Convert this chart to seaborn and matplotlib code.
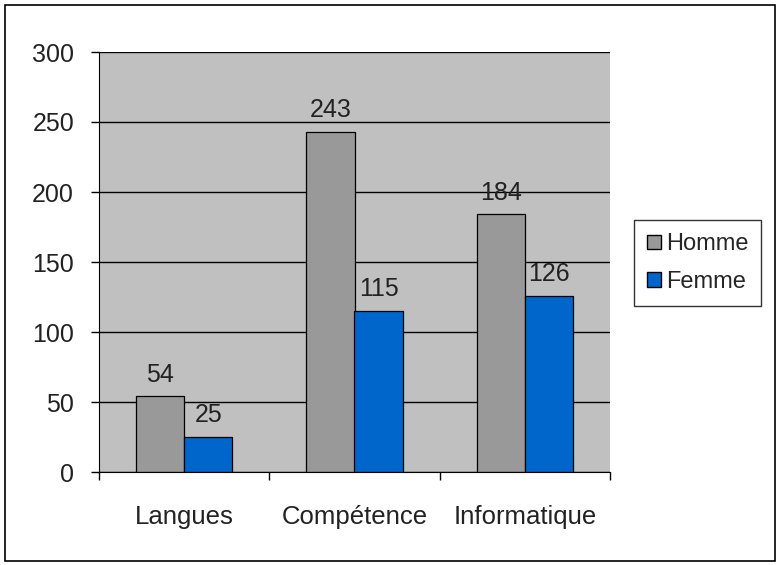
import matplotlib
matplotlib.use('Agg')
import matplotlib.pyplot as plt
import seaborn as sns
import pandas as pd
from matplotlib.patches import Rectangle, Patch

# Données
categories = ['Langues', 'Compétence', 'Informatique']
homme = [54, 243, 184]
femme = [25, 115, 126]
series = ['Homme', 'Femme']
couleurs = ['#999999', '#0066CC']

datos = pd.DataFrame({
    'categorie': categories * 2,
    'valeur': homme + femme,
    'sexe': [series[0]] * 3 + [series[1]] * 3,
})

sns.set_style('white')
plt.rcParams['font.family'] = ['Liberation Sans', 'DejaVu Sans']

fig = plt.figure(figsize=(7.8, 5.65), dpi=100)
ax = fig.add_axes([99 / 780, 1 - 472 / 565, 511 / 780, 420 / 565])

sns.barplot(data=datos, x='categorie', y='valeur', hue='sexe',
            palette=couleurs, width=0.565, gap=0, edgecolor='black',
            linewidth=0.9, saturation=1, ax=ax, legend=False)

ax.set_facecolor('#C0C0C0')
ax.set_ylim(0, 300)
ax.set_xlim(-0.5, 2.5)
ax.set_yticks(range(0, 301, 50))
ax.yaxis.grid(True, color='black', linewidth=1)
ax.set_axisbelow(True)
for s in ['top', 'right']:
    ax.spines[s].set_visible(False)
ax.spines['left'].set_color('black')
ax.spines['bottom'].set_color('black')
ax.set_xlabel('')
ax.set_ylabel('')

txt = '#222222'
ax.tick_params(axis='y', length=6, width=1, color='black', pad=12,
               labelsize=18, labelcolor=txt, left=True)
ax.set_xticks([-0.5, 0.5, 1.5, 2.5], minor=True)
ax.tick_params(axis='x', which='minor', length=6, width=1, color='black', bottom=True)
ax.tick_params(axis='x', which='major', length=0, pad=24, labelsize=18.5,
               labelcolor=txt)

for cont in ax.containers:
    ax.bar_label(cont, padding=7, fontsize=18, color=txt)

handles = [Patch(facecolor=c, edgecolor='black', label=l) for c, l in zip(couleurs, series)]
leg = fig.legend(handles=handles, loc='center left', bbox_to_anchor=(634 / 780, 1 - 263 / 565),
                 borderaxespad=0, fontsize=17, frameon=True, fancybox=False,
                 edgecolor='black', handlelength=0.6, handleheight=0.6,
                 handletextpad=0.2, labelspacing=0.65, borderpad=0.55)
leg.get_frame().set_linewidth(1)

fig.patches.append(Rectangle((5 / 780, 4 / 565), 770 / 780, 556 / 565,
                             transform=fig.transFigure, fill=False,
                             edgecolor='black', linewidth=1.2))

fig.savefig('out.png', dpi=100)
